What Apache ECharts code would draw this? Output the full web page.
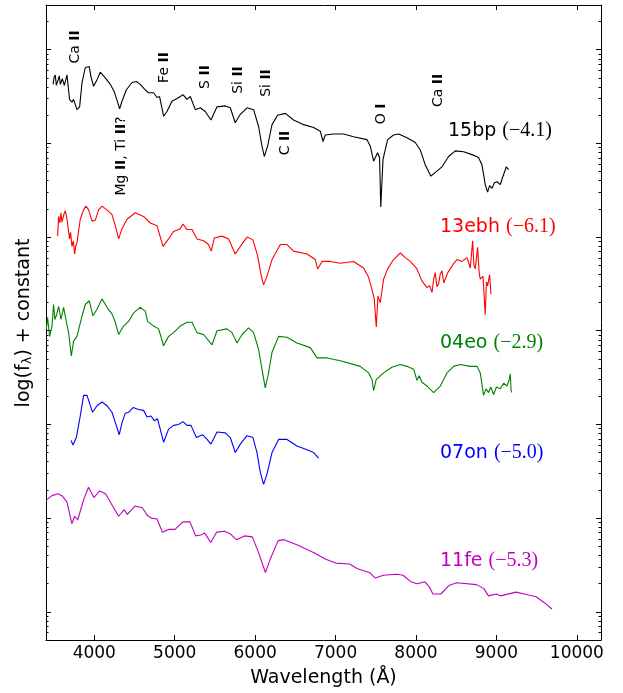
<!DOCTYPE html>
<html>
<head>
<meta charset="utf-8">
<script src="https://cdn.jsdelivr.net/npm/echarts@6/dist/echarts.min.js"></script>
<style>
html,body{margin:0;padding:0;background:#fff;}
#chart{width:623px;height:693px;}
</style>
</head>
<body>
<div id="chart"></div>
<script>
// ---------- data (wavelength in Angstrom, log10 flux + constant) ----------
const lam15bp = [3487,3500,3516,3528,3540,3552,3565,3578,3590,3603,3615,3628,3640,3661,3693,3723,3743,3785,3818,3848,3889,3938,3959,3992,4034,4075,4137,4199,4249,4290,4315,4345,4398,4469,4523,4572,4634,4676,4738,4780,4812,4862,4904,4966,5029,5070,5103,5153,5194,5256,5318,5380,5451,5526,5629,5691,5753,5816,5899,5981,6043,6085,6114,6155,6210,6279,6375,6478,6603,6727,6810,6844,6872,6975,7100,7224,7391,7432,7473,7522,7547,7562,7590,7647,7721,7784,7888,7991,8053,8115,8186,8240,8323,8405,8488,8592,8696,8778,8820,8861,8890,8915,8945,8975,9007,9048,9070,9089,9123,9151];
const f15bp = [5.63,5.70,5.73,5.62,5.60,5.68,5.72,5.63,5.61,5.69,5.70,5.62,5.64,5.73,5.47,5.44,5.47,5.36,5.39,5.65,5.81,5.82,5.71,5.61,5.68,5.76,5.70,5.63,5.55,5.44,5.37,5.45,5.57,5.65,5.66,5.63,5.57,5.54,5.54,5.49,5.50,5.29,5.34,5.45,5.48,5.50,5.52,5.47,5.50,5.36,5.38,5.34,5.25,5.39,5.40,5.38,5.22,5.31,5.38,5.36,5.18,4.97,4.86,4.97,5.20,5.30,5.32,5.25,5.20,5.17,5.13,5.02,5.09,5.10,5.10,5.07,5.04,4.97,4.81,4.90,4.85,4.32,4.83,5.04,5.09,5.10,5.06,5.01,4.93,4.77,4.65,4.69,4.75,4.86,4.92,4.91,4.88,4.85,4.77,4.56,4.48,4.55,4.52,4.58,4.59,4.56,4.62,4.64,4.75,4.72];

const lam13ebh = [3544,3557,3572,3586,3598,3611,3625,3640,3661,3693,3705,3723,3740,3756,3770,3785,3826,3867,3897,3930,3972,4013,4054,4096,4158,4220,4262,4303,4345,4407,4510,4613,4697,4780,4855,4924,4986,5070,5103,5153,5215,5277,5359,5421,5455,5492,5588,5670,5753,5816,5899,5973,6031,6073,6105,6147,6210,6313,6396,6478,6645,6748,6777,6831,6934,7059,7224,7348,7411,7453,7481,7506,7527,7556,7597,7647,7721,7805,7867,7929,8012,8074,8137,8170,8199,8220,8240,8260,8281,8300,8323,8345,8364,8395,8426,8470,8510,8572,8634,8675,8704,8720,8737,8766,8785,8799,8833,8861,8875,8890,8915,8932];
const f13ebh = [4.01,4.22,4.15,4.26,4.16,4.17,4.25,4.28,4.19,3.98,4.05,3.90,3.96,3.82,3.90,3.94,4.19,4.29,4.33,4.29,4.17,4.18,4.29,4.33,4.29,4.24,4.12,3.98,4.09,4.19,4.26,4.22,4.15,4.12,3.90,3.98,4.06,4.09,4.14,4.08,4.08,3.98,3.96,3.92,3.85,3.99,4.01,3.98,3.82,3.90,4.00,3.97,3.80,3.60,3.49,3.58,3.76,3.92,3.92,3.85,3.82,3.76,3.66,3.74,3.74,3.72,3.74,3.67,3.57,3.44,3.34,3.04,3.37,3.30,3.55,3.66,3.76,3.83,3.78,3.74,3.66,3.53,3.46,3.48,3.41,3.55,3.62,3.47,3.50,3.60,3.64,3.51,3.53,3.62,3.66,3.72,3.76,3.74,3.78,3.67,3.96,3.70,3.66,3.89,3.62,3.55,3.58,3.17,3.52,3.48,3.60,3.39];

const lam04eo = [3404,3420,3445,3475,3494,3510,3528,3557,3586,3619,3652,3681,3715,3743,3785,3848,3889,3938,3984,4034,4096,4158,4220,4262,4303,4365,4427,4489,4572,4634,4663,4738,4800,4862,4924,4986,5070,5153,5215,5277,5359,5464,5526,5650,5712,5775,5837,5919,5981,6043,6085,6126,6164,6210,6292,6396,6520,6686,6769,6894,7059,7307,7411,7453,7473,7506,7597,7701,7805,7888,7970,8012,8040,8074,8137,8219,8302,8385,8467,8551,8675,8758,8799,8840,8870,8902,8930,8965,9000,9048,9090,9131,9160,9172,9182,9193];
const f04eo = [3.02,3.14,2.94,3.05,3.28,3.12,3.16,3.26,3.12,3.25,3.10,2.98,2.73,2.89,2.94,3.16,3.28,3.32,3.16,3.23,3.34,3.25,3.18,3.09,2.96,3.05,3.10,3.19,3.25,3.21,3.10,3.05,3.02,2.84,2.94,2.98,3.05,3.09,3.09,2.98,2.96,2.85,3.00,3.02,2.98,2.87,2.96,3.03,2.98,2.80,2.59,2.39,2.54,2.77,2.94,2.93,2.87,2.82,2.71,2.71,2.68,2.62,2.55,2.48,2.36,2.48,2.55,2.61,2.64,2.62,2.59,2.47,2.52,2.45,2.41,2.34,2.41,2.55,2.62,2.64,2.62,2.62,2.55,2.31,2.38,2.34,2.40,2.32,2.40,2.38,2.44,2.41,2.48,2.54,2.36,2.34];

const lam07on = [3711,3736,3777,3826,3867,3910,3951,3979,4034,4096,4158,4220,4274,4311,4345,4386,4427,4482,4551,4613,4656,4705,4746,4787,4862,4924,4986,5048,5103,5153,5203,5269,5347,5402,5451,5526,5629,5691,5753,5816,5899,5973,6023,6064,6105,6147,6210,6292,6396,6520,6645,6727,6789];
const f07on = [1.83,1.78,1.86,2.09,2.31,2.31,2.20,2.13,2.20,2.24,2.20,2.13,1.99,1.89,2.02,2.12,2.13,2.18,2.16,2.15,2.08,2.09,2.04,2.06,1.81,1.95,1.99,2.00,2.03,1.99,1.99,1.86,1.89,1.84,1.79,1.92,1.91,1.86,1.70,1.79,1.88,1.86,1.70,1.49,1.36,1.47,1.70,1.84,1.84,1.77,1.73,1.70,1.64];

const lam11fe = [3400,3475,3548,3598,3661,3721,3756,3794,3869,3928,3997,4066,4140,4214,4303,4372,4411,4510,4598,4658,4708,4781,4846,4929,5004,5102,5190,5260,5324,5373,5448,5521,5620,5694,5768,5867,5965,6039,6128,6187,6286,6360,6533,6731,6879,7002,7174,7273,7421,7495,7593,7766,7839,7939,8012,8112,8170,8210,8308,8408,8506,8753,8842,8901,8999,9049,9246,9345,9493,9591,9690];
const f11fe = [1.19,1.24,1.26,1.24,1.17,0.94,1.02,0.98,1.20,1.33,1.22,1.29,1.26,1.15,1.02,1.09,1.04,1.13,1.11,1.03,1.00,0.99,0.85,0.88,0.88,0.96,0.96,0.81,0.82,0.84,0.74,0.85,0.86,0.83,0.77,0.81,0.80,0.64,0.42,0.56,0.76,0.77,0.71,0.63,0.56,0.52,0.51,0.46,0.42,0.36,0.39,0.40,0.39,0.32,0.30,0.32,0.26,0.19,0.19,0.28,0.31,0.29,0.25,0.17,0.19,0.17,0.21,0.19,0.16,0.10,0.03];

const seriesNames = ['15bp','13ebh','04eo','07on','11fe'];
const seriesPhases = ['(\u22124.1)','(\u22126.1)','(\u22122.9)','(\u22125.0)','(\u22125.3)'];
const seriesColors = ['#000000','#ff0000','#008000','#0000ff','#bf00bf'];
const xTicks = [4000,5000,6000,7000,8000,9000,10000];

// line identifications: [ion, numeral]
const lineIds = [['Ca','II'],['Mg','II, Ti II?'],['Fe','II'],['S','II'],['Si','II'],['Si','II'],['C','II'],['O','I'],['Ca','II']];

// ---------- chart ----------
const xs = [lam15bp, lam13ebh, lam04eo, lam07on, lam11fe];
const ys = [f15bp, f13ebh, f04eo, f07on, f11fe];

const yMin = Math.log10(0.5), yMax = Math.log10(3e6);
const majors = [], minors = [];
for (let k = -1; k <= 6; k++) {
  if (k >= yMin && k <= yMax) majors.push(k);
  for (let n = 2; n <= 9; n++) {
    const v = k + Math.log10(n);
    if (v > yMin && v < yMax) minors.push(v);
  }
}

const FONT = '"DejaVu Sans", sans-serif';
const chart = echarts.init(document.getElementById('chart'), null, {renderer: 'canvas'});

function yAx(pos, vals, len, showLine) {
  return {
    type: 'value', position: pos, min: yMin, max: yMax,
    axisLine: {show: showLine, lineStyle: {color: '#000', width: 1}},
    axisTick: {show: true, inside: true, length: len, customValues: vals, lineStyle: {color: '#000', width: 1}},
    axisLabel: {show: false}, splitLine: {show: false}
  };
}
function xAx(pos, labels) {
  return {
    type: 'value', position: pos, min: 3400, max: 10300,
    axisLine: {show: true, onZero: false, lineStyle: {color: '#000', width: 1}},
    axisTick: {show: true, inside: true, length: 5, customValues: xTicks, lineStyle: {color: '#000', width: 1}},
    axisLabel: {show: labels, customValues: xTicks, formatter: v => String(v), color: '#000', fontFamily: FONT, fontSize: 17, margin: 5},
    splitLine: {show: false},
    name: labels ? 'Wavelength (\u00c5)' : '', nameLocation: 'middle', nameGap: 29,
    nameTextStyle: {color: '#000', fontFamily: FONT, fontSize: 19}
  };
}

const series = xs.map((lx, i) => ({
  type: 'line', name: seriesNames[i], xAxisIndex: 0, yAxisIndex: 0,
  data: lx.map((l, j) => [l, ys[i][j]]),
  showSymbol: false, symbol: 'none', smooth: false,
  lineStyle: {color: seriesColors[i], width: 1.1}, itemStyle: {color: seriesColors[i]},
  animation: false, silent: true
}));

const labelPos = [[448, 131], [440, 227], [440, 343], [440, 453], [440, 561]];
const graphics = [];
seriesNames.forEach((n, i) => {
  graphics.push({
    type: 'text', x: labelPos[i][0], y: labelPos[i][1],
    style: {
      text: '{a|' + n + ' }{b|' + seriesPhases[i] + '}',
      align: 'left', verticalAlign: 'middle',
      rich: {
        a: {fontFamily: FONT, fontSize: 19, fill: seriesColors[i]},
        b: {fontFamily: '"Liberation Serif", serif', fontSize: 20, fill: seriesColors[i]}
      }
    }
  });
});

const idPos = [[75.5, 47], [121, 156], [164.5, 67.5], [205, 77], [238, 80], [266.5, 83], [285.7, 143], [381.7, 114], [438.3, 90.5]];
lineIds.forEach((id, i) => {
  let txt;
  if (id[1] === 'II, Ti II?') txt = '{n|Mg }{b|II}{n|, Ti }{b|II}{n|?}';
  else txt = '{n|' + id[0] + ' }{b|' + id[1] + '}';
  graphics.push({
    type: 'text', x: idPos[i][0], y: idPos[i][1], rotation: Math.PI / 2,
    style: {
      text: txt, align: 'center', verticalAlign: 'middle',
      rich: {
        n: {fontFamily: FONT, fontSize: 14, fill: '#000'},
        b: {fontFamily: FONT, fontSize: 14, fontWeight: 'bold', fill: '#000'}
      }
    }
  });
});

graphics.push({
  type: 'text', x: 24, y: 323, rotation: Math.PI / 2,
  style: {
    text: '{a|log(f}{s|\u03bb}{a|) + constant}', align: 'center', verticalAlign: 'middle',
    rich: {
      a: {fontFamily: FONT, fontSize: 19, fill: '#000'},
      s: {fontFamily: FONT, fontSize: 13, fill: '#000', padding: [8, 0, 0, 0]}
    }
  }
});

chart.setOption({
  animation: false,
  backgroundColor: '#fff',
  grid: {left: 46, right: 22, top: 5, bottom: 51, containLabel: false},
  xAxis: [xAx('bottom', true), xAx('top', false)],
  yAxis: [yAx('left', majors, 5, true), yAx('left', minors, 2.5, false), yAx('right', majors, 5, true), yAx('right', minors, 2.5, false)],
  series: series,
  graphic: graphics
});
</script>
</body>
</html>
